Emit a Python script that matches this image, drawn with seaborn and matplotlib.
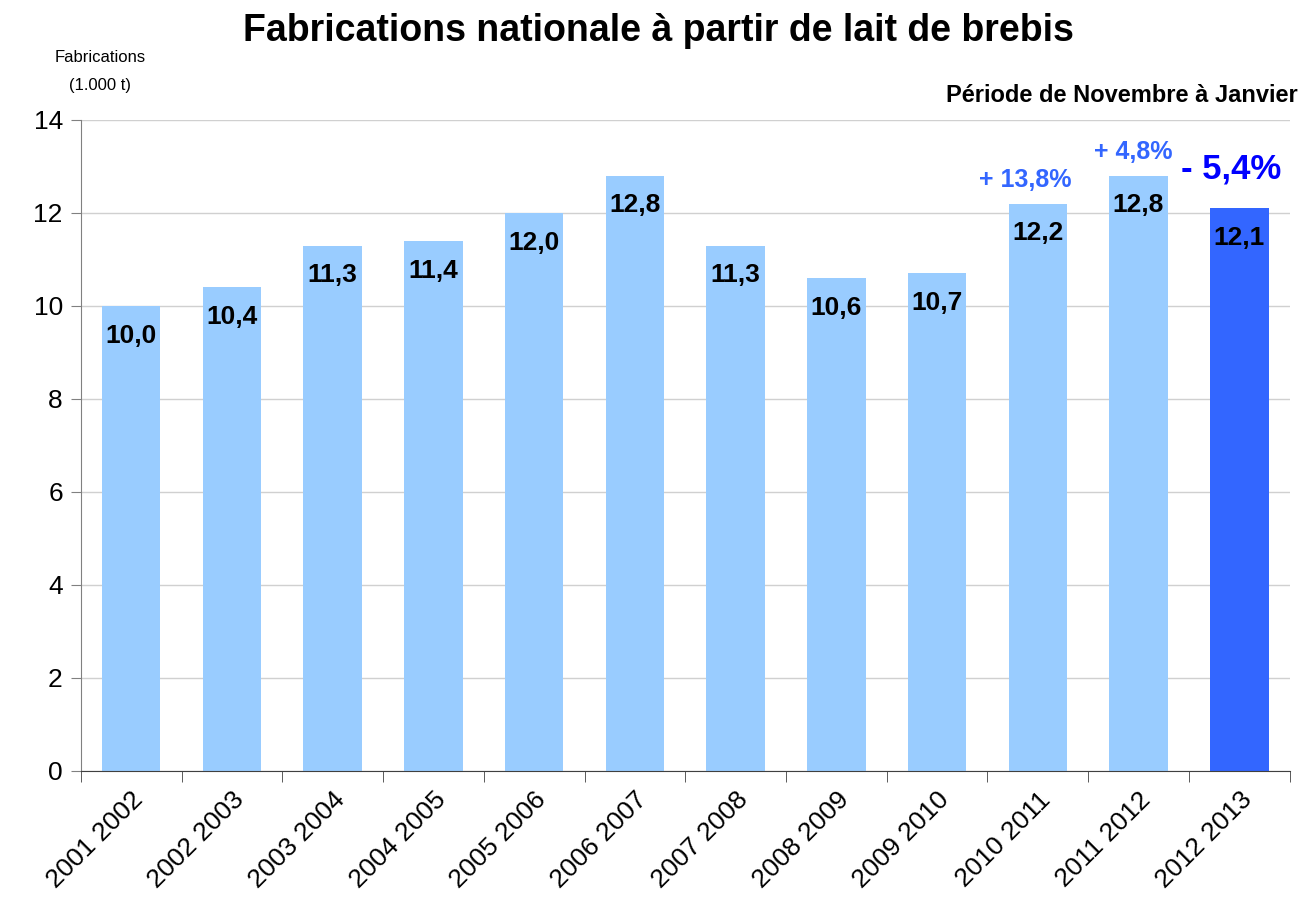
import matplotlib
matplotlib.use("Agg")
import numpy as np
import pandas as pd
import matplotlib.pyplot as plt
from matplotlib.ticker import FixedLocator
import seaborn as sns

# data
campagnes = ["2001 2002", "2002 2003", "2003 2004", "2004 2005", "2005 2006",
             "2006 2007", "2007 2008", "2008 2009", "2009 2010", "2010 2011",
             "2011 2012", "2012 2013"]
fabrications = [10.0, 10.4, 11.3, 11.4, 12.0, 12.8, 11.3, 10.6, 10.7, 12.2, 12.8, 12.1]
variations = {"2010 2011": "+ 13,8%", "2011 2012": "+ 4,8%", "2012 2013": "- 5,4%"}

sns.set_style("white")
plt.rcParams['font.family'] = ['Liberation Sans', 'DejaVu Sans']
plt.rcParams['text.color'] = 'black'
plt.rcParams['xtick.color'] = 'black'
plt.rcParams['ytick.color'] = 'black'

df = pd.DataFrame({"campagne": campagnes, "fab": fabrications})
palette = {c: "#99CCFF" for c in campagnes}
palette[campagnes[-1]] = "#3366FF"

fig = plt.figure(figsize=(13.04, 9.09), dpi=100)
ax = fig.add_axes([0.062, 0.152, 0.927, 0.716])

sns.barplot(data=df, x="campagne", y="fab", hue="campagne", palette=palette,
            legend=False, width=0.58, saturation=1, linewidth=0, ax=ax)

ax.set_ylim(0, 14)
ax.set_xlim(-0.5, len(campagnes) - 0.5)
ax.set_yticks(range(0, 15, 2))
ax.yaxis.grid(True, color="#d0d0d0", linewidth=1)
ax.set_axisbelow(True)
for s in ["top", "right"]:
    ax.spines[s].set_visible(False)
ax.spines["left"].set_color("#808080")
ax.spines["bottom"].set_color("#404040")

ax.tick_params(axis="y", labelsize=19, length=7, color="#808080", left=True, pad=6)
ax.tick_params(axis="x", which="major", length=0, labelsize=19, pad=12)
ax.xaxis.set_minor_locator(FixedLocator(np.arange(-0.5, len(campagnes), 1.0)))
ax.tick_params(axis="x", which="minor", length=8, color="#404040", bottom=True)
plt.setp(ax.get_xticklabels(), rotation=45, ha="right", rotation_mode="anchor")
ax.set_xlabel("")
ax.set_ylabel("")

# valeurs dans les barres
for i, v in enumerate(fabrications):
    ax.text(i, v - 0.38, f"{v:.1f}".replace(".", ","), ha="center", va="top",
            fontsize=19, fontweight="bold", color="black")

# variations au-dessus des trois dernières campagnes
shifts = {"2010 2011": -0.12, "2011 2012": -0.05, "2012 2013": -0.08}
for i, c in enumerate(campagnes):
    if c in variations:
        last = c == campagnes[-1]
        ax.text(i + shifts[c], fabrications[i] + (0.5 if last else 0.25),
                variations[c], ha="center", va="bottom",
                fontsize=25 if last else 18, fontweight="bold",
                color="#0000FF" if last else "#3366FF")

fig.text(0.505, 0.966, "Fabrications nationale à partir de lait de brebis",
         ha="center", va="center", fontsize=27, fontweight="bold")
fig.text(0.0765, 0.937, "Fabrications", ha="center", va="center", fontsize=12)
fig.text(0.0765, 0.906, "(1.000 t)", ha="center", va="center", fontsize=12)
fig.text(0.995, 0.895, "Période de Novembre à Janvier", ha="right", va="center",
         fontsize=17, fontweight="bold")

fig.savefig("out.png", dpi=100)
